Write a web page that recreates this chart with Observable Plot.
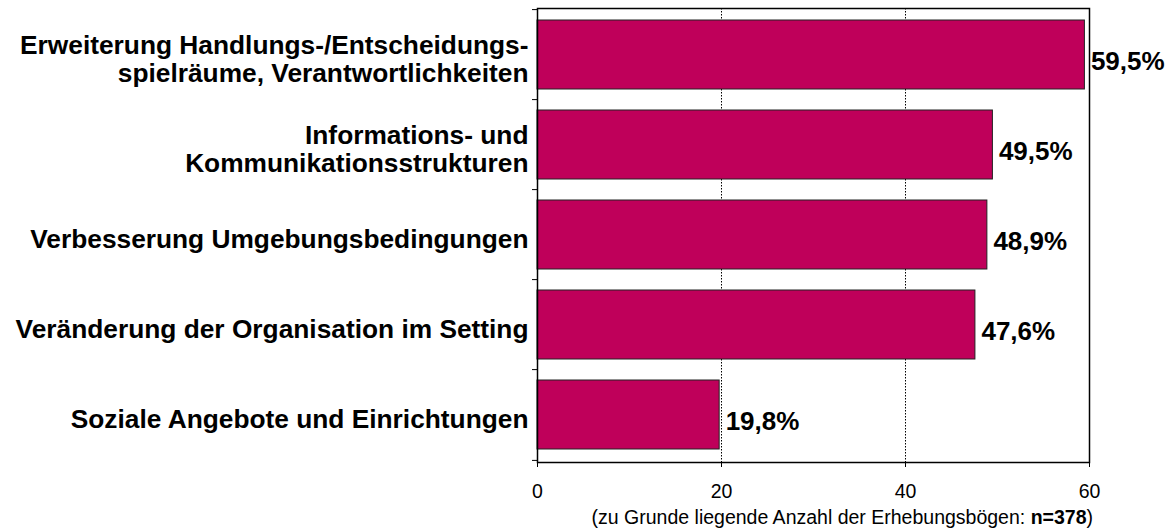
<!DOCTYPE html>
<html>
<head>
<meta charset="utf-8">
<script src="https://cdn.jsdelivr.net/npm/d3@7"></script>
<script src="https://cdn.jsdelivr.net/npm/@observablehq/plot@0.6"></script>
<style>
  html, body { margin: 0; padding: 0; background: #fff; }
  #wrap { width: 1176px; height: 529px; overflow: hidden; font-family: "Liberation Sans", Arial, sans-serif; }
  #caption { height: 24px; line-height: 24px; font-size: 19.5px; text-align: right; padding-right: 83px; white-space: nowrap; color: #000; }
</style>
</head>
<body>
<div id="wrap">
  <div id="chart"></div>
  <div id="caption">(zu Grunde liegende Anzahl der Erhebungsbögen: <b>n=378</b>)</div>
</div>
<script>
const categories = [
  "Erweiterung Handlungs-/Entscheidungs-\nspielräume, Verantwortlichkeiten",
  "Informations- und\nKommunikationsstrukturen",
  "Verbesserung Umgebungsbedingungen",
  "Veränderung der Organisation im Setting",
  "Soziale Angebote und Einrichtungen"
];
const values = [59.5, 49.5, 48.9, 47.6, 19.8];
const xTicks = [0, 20, 40, 60];
const gridValues = [20, 40];

const data = categories.map((c, i) => ({cat: c, value: values[i]}));
const fmt = v => v.toFixed(1).replace(".", ",") + "%";

const chart = Plot.plot({
  width: 1176,
  height: 505,
  marginLeft: 537,
  marginRight: 87,
  marginTop: 8,
  marginBottom: 43,
  style: {fontFamily: "'Liberation Sans', Arial, sans-serif", fontSize: "19.5px", color: "#000", background: "#fff"},
  x: {domain: [0, 60], axis: null},
  y: {domain: categories, axis: null, paddingInner: 0.23, paddingOuter: 0.12},
  marks: [
    Plot.ruleX(gridValues, {stroke: "#000", strokeWidth: 1, strokeDasharray: "1.5,1.5"}),
    Plot.barX(data, {y: "cat", x: "value", fill: "#BF005A", stroke: "#222", strokeWidth: 1}),
    Plot.frame({stroke: "#000", strokeWidth: 1.5}),
    Plot.axisX({ticks: xTicks, tickSize: 5, tickPadding: 17, fontSize: 19.5, label: null, tickFormat: d => String(d)}),
    Plot.ruleY(categories, {y: d => d, x1: 0, x2: 0, insetLeft: -5, dy: -45.4, stroke: "#000"}),
    Plot.ruleY(categories.slice(-1), {y: d => d, x1: 0, x2: 0, insetLeft: -5, dy: 45.4, stroke: "#000"}),
    Plot.text(data, {y: "cat", x: 0, text: "cat", textAnchor: "end", dx: -9, dy: 4, fontWeight: "bold", fontSize: 26.3, lineHeight: 1.08, fill: "#000"}),
    Plot.text(data, {y: "cat", x: "value", text: d => fmt(d.value), textAnchor: "start", dx: 6, dy: 7, fontWeight: "bold", fontSize: 26, fill: "#000"})
  ]
});
document.getElementById("chart").appendChild(chart);
</script>
</body>
</html>
